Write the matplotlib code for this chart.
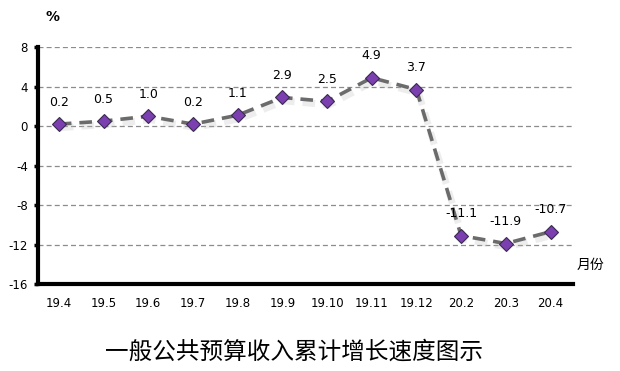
import matplotlib
matplotlib.use("Agg")
import matplotlib.pyplot as plt
import matplotlib.patheffects as pe

plt.rcParams['font.family'] = ['Noto Sans CJK SC', 'DejaVu Sans']

categories = ["19.4", "19.5", "19.6", "19.7", "19.8", "19.9", "19.10", "19.11", "19.12", "20.2", "20.3", "20.4"]
values = [0.2, 0.5, 1.0, 0.2, 1.1, 2.9, 2.5, 4.9, 3.7, -11.1, -11.9, -10.7]
labels = ["0.2", "0.5", "1.0", "0.2", "1.1", "2.9", "2.5", "4.9", "3.7", "-11.1", "-11.9", "-10.7"]
yticks = [8, 4, 0, -4, -8, -12, -16]

fig = plt.figure(figsize=(6.2, 3.71), dpi=100)
ax = fig.add_axes([0.061, 0.2345, 0.863, 0.6385])

x = list(range(len(categories)))
ax.plot(x, values, color='#6b6b6b', lw=2.6, linestyle=(0, (3.5, 2.2)), zorder=3,
        path_effects=[pe.SimpleLineShadow(offset=(1.5, -2.5), shadow_color='#bbbbbb', alpha=0.25, linewidth=5), pe.Normal()])
ax.plot(x, values, linestyle='none', marker='D', markersize=6.8, markerfacecolor='#7b3fb0',
        markeredgecolor='#3a2a50', markeredgewidth=0.8, zorder=4)

for xi, v, lab in zip(x, values, labels):
    ax.annotate(lab, (xi, v), xytext=(0, 11), textcoords='offset points', ha='center', va='bottom',
                fontsize=9, family=['DejaVu Sans'], color='black')

ax.set_xlim(-0.47, 11.5)
ax.set_ylim(-16, 8)
ax.set_yticks(yticks)
ax.set_yticklabels([str(t) for t in yticks], fontsize=8.5, family=['DejaVu Sans'])
ax.set_xticks(x)
ax.set_xticklabels(categories, fontsize=8.5, family=['DejaVu Sans'])
ax.tick_params(axis='x', length=0, pad=9)
ax.tick_params(axis='y', length=3, width=2.5, direction='out', pad=4)

ax.grid(axis='y', linestyle=(0, (4, 2.5)), color='#8c8c8c', lw=0.9)
ax.set_axisbelow(True)
for s in ['top', 'right']:
    ax.spines[s].set_visible(False)
for s in ['left', 'bottom']:
    ax.spines[s].set_linewidth(3)
    ax.spines[s].set_color('black')

fig.text(0.085, 0.955, '%', fontsize=10, fontweight='bold', ha='center', va='center', family=['DejaVu Sans'])
fig.text(0.952, 0.285, '月份', fontsize=10, ha='center', va='center')
fig.text(0.475, 0.05, '一般公共预算收入累计增长速度图示', fontsize=17, ha='center', va='center')

fig.savefig('out.png', dpi=100)
